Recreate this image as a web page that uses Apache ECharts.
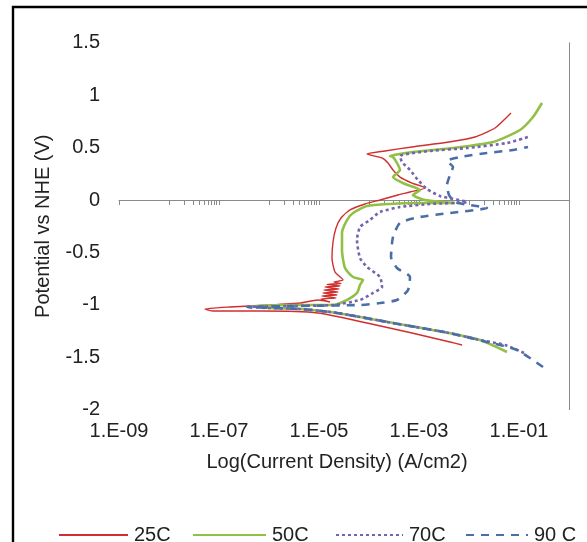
<!DOCTYPE html>
<html>
<head>
<meta charset="utf-8">
<script src="https://cdn.jsdelivr.net/npm/echarts@6/dist/echarts.min.js"></script>
<style>html,body{margin:0;padding:0;background:#fff;}#c{width:587px;height:542px;}</style>
</head>
<body>
<div id="c"></div>
<script>
// log10 of current density (A/cm2) and potential vs NHE (V)
const logI_25C = [-2.14,-2.38,-3.14,-4.04,-5.02,-6.14,-7.12,-7.28,-6.78,-5.98,-5.38,-5.02,-4.78,-4.96,-4.66,-4.94,-4.64,-4.92,-4.62,-4.90,-4.60,-4.88,-4.58,-4.84,-4.56,-4.70,-4.52,-4.68,-4.74,-4.72,-4.66,-4.56,-4.38,-4.08,-3.78,-3.42,-3.18,-2.88,-3.14,-3.38,-3.52,-3.62,-3.74,-4.04,-3.68,-3.14,-2.40,-1.88,-1.48,-1.16];
const E_25C    = [-1.384,-1.355,-1.269,-1.174,-1.078,-1.059,-1.059,-1.040,-1.021,-1.002,-0.983,-0.954,-0.973,-0.945,-0.935,-0.916,-0.906,-0.887,-0.878,-0.859,-0.849,-0.830,-0.820,-0.806,-0.797,-0.782,-0.763,-0.687,-0.553,-0.401,-0.267,-0.172,-0.095,-0.038,0.0,0.048,0.076,0.115,0.162,0.219,0.286,0.353,0.401,0.439,0.468,0.506,0.553,0.601,0.687,0.830];

const logI_50C = [-1.24,-1.78,-2.40,-3.52,-4.64,-5.38,-5.98,-6.34,-5.38,-4.72,-4.44,-4.24,-4.18,-4.12,-4.32,-4.48,-4.54,-4.54,-4.44,-4.32,-4.04,-3.58,-2.98,-2.28,-2.88,-3.12,-2.98,-3.28,-3.52,-3.38,-3.44,-3.52,-3.58,-3.12,-2.32,-1.52,-0.98,-0.72,-0.54];
const E_50C    = [-1.450,-1.336,-1.269,-1.174,-1.078,-1.040,-1.031,-1.011,-1.002,-1.002,-0.954,-0.887,-0.811,-0.763,-0.735,-0.649,-0.477,-0.315,-0.191,-0.124,-0.057,-0.038,-0.029,-0.029,0.0,0.048,0.095,0.153,0.219,0.286,0.353,0.410,0.420,0.458,0.496,0.553,0.668,0.792,0.926];

const logI_70C = [-0.90,-1.28,-1.78,-2.40,-3.52,-4.64,-5.38,-5.98,-6.44,-5.58,-4.72,-4.18,-3.92,-3.74,-3.78,-4.04,-4.18,-4.24,-4.18,-3.98,-3.78,-3.38,-2.78,-2.04,-2.58,-2.84,-3.02,-3.18,-3.34,-3.38,-2.78,-2.04,-1.24,-0.82];
const E_70C    = [-1.460,-1.384,-1.336,-1.269,-1.174,-1.078,-1.040,-1.031,-1.021,-1.011,-1.002,-0.954,-0.887,-0.830,-0.735,-0.639,-0.553,-0.382,-0.258,-0.191,-0.115,-0.067,-0.038,-0.019,0.038,0.105,0.191,0.286,0.363,0.420,0.468,0.496,0.544,0.601];

const logI_90C = [-0.52,-1.04,-1.64,-2.40,-3.52,-4.64,-5.38,-6.44,-5.38,-4.18,-3.78,-3.44,-3.22,-3.18,-3.44,-3.56,-3.52,-3.38,-2.98,-2.38,-1.64,-1.98,-2.28,-2.40,-2.44,-2.38,-2.32,-2.44,-2.18,-1.64,-1.12,-0.82];
const E_90C    = [-1.594,-1.431,-1.355,-1.269,-1.174,-1.078,-1.040,-1.021,-1.011,-1.002,-0.983,-0.954,-0.859,-0.735,-0.649,-0.544,-0.353,-0.219,-0.162,-0.124,-0.076,-0.048,-0.019,0.048,0.143,0.239,0.315,0.372,0.410,0.448,0.477,0.506];

const seriesNames = ['25C','50C','70C','90 C'];
const xTickLabels = [1e-9,1e-7,1e-5,1e-3,1e-1];
const xMinorTicks = [1e-9,1e-8,2e-8,3e-8,4e-8,5e-8,6e-8,7e-8,8e-8,9e-8,1e-7,
  1e-6,2e-6,3e-6,4e-6,5e-6,6e-6,7e-6,8e-6,9e-6,1e-5,
  1e-4,2e-4,3e-4,4e-4,5e-4,6e-4,7e-4,8e-4,9e-4,1e-3,
  1e-2,2e-2,3e-2,4e-2,5e-2,6e-2,7e-2,8e-2,9e-2,1e-1];

function pts(li, e){ return li.map((v,i)=>[Math.pow(10, v), e[i]]); }

const chart = echarts.init(document.getElementById('c'), null, {renderer:'canvas'});
const FONT = 'Liberation Sans, Arial, sans-serif';
const txt = {fontFamily: FONT, fontSize: 20, color: '#222'};

function legendAt(name, left, w){
  return {data:[name], left:left, top:520, itemWidth:w, itemHeight:14, itemGap:0,
    itemStyle:{opacity:0, borderWidth:0},
    textStyle:Object.assign({}, txt, {padding:[0,0,0,1]})};
}

chart.setOption({
  animation:false,
  backgroundColor:'#fff',
  graphic:[{type:'rect', shape:{x:13, y:7, width:800, height:800}, style:{fill:'none', stroke:'#000', lineWidth:2.4}, silent:true}],
  grid:{left:119, right:18, top:42.8, bottom:132.4, containLabel:false},
  legend:[legendAt('25C',53,69), legendAt('50C',187,73), legendAt('70C',330,67), legendAt('90 C',460,62)],
  xAxis:[
    {type:'log', logBase:10, min:1e-9, max:1, position:'bottom',
     axisLine:{show:true, onZero:true, onZeroAxisIndex:0, lineStyle:{color:'#8a8a8a', width:1}},
     axisTick:{show:true, customValues:xMinorTicks, length:5, lineStyle:{color:'#8a8a8a'}},
     axisLabel:{show:false}, splitLine:{show:false}},
    {type:'log', logBase:10, min:1e-9, max:1, position:'bottom',
     axisLine:{show:false, onZero:false}, axisTick:{show:false}, splitLine:{show:false},
     axisLabel:Object.assign({}, txt, {customValues:xTickLabels, margin:12,
       formatter:function(v){ const p = Math.round(-Math.log10(v)); return '1.E-' + (p<10?'0':'') + p; }}),
     name:'Log(Current Density) (A/cm2)', nameLocation:'middle', nameGap:43,
     nameTextStyle:Object.assign({}, txt, {padding:[0,14,0,0]})}
  ],
  yAxis:[
    {type:'value', min:-2, max:1.5, interval:0.5, position:'left',
     axisLine:{show:false}, axisTick:{show:false}, splitLine:{show:false},
     axisLabel:Object.assign({}, txt, {margin:19}),
     name:'Potential vs NHE (V)', nameLocation:'middle', nameGap:66, nameRotate:90,
     nameTextStyle:txt},
    {type:'value', min:-2, max:1.5, interval:0.5, position:'right',
     axisLine:{show:true, lineStyle:{color:'#8a8a8a', width:1}}, axisTick:{show:false},
     axisLabel:{show:false}, splitLine:{show:false}}
  ],
  series:[
    {name:seriesNames[0], type:'line', xAxisIndex:0, yAxisIndex:0, data:pts(logI_25C,E_25C), symbol:'none', smooth:0.2,
     lineStyle:{color:'#D12E2E', width:1.4}, itemStyle:{color:'#D12E2E'}},
    {name:seriesNames[1], type:'line', xAxisIndex:0, yAxisIndex:0, data:pts(logI_50C,E_50C), symbol:'none', smooth:0.2,
     lineStyle:{color:'#92C046', width:2.6}, itemStyle:{color:'#92C046'}},
    {name:seriesNames[2], type:'line', xAxisIndex:0, yAxisIndex:0, data:pts(logI_70C,E_70C), symbol:'none', smooth:0.2,
     lineStyle:{color:'#7563B0', width:2.6, type:[3,3]}, itemStyle:{color:'#7563B0'}},
    {name:seriesNames[3], type:'line', xAxisIndex:0, yAxisIndex:0, data:pts(logI_90C,E_90C), symbol:'none', smooth:0.2,
     lineStyle:{color:'#4B6EA8', width:2.6, type:[8,7]}, itemStyle:{color:'#4B6EA8'}}
  ]
});
</script>
</body>
</html>
